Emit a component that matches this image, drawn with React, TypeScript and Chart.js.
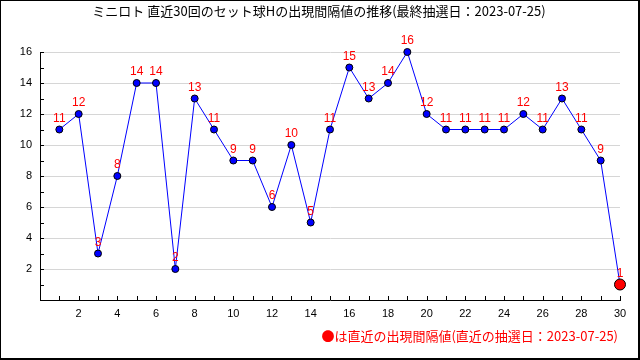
import React, { useEffect, useRef } from "react";
import { Chart, registerables } from "chart.js";

Chart.register(...registerables);

const TITLE = "ミニロト 直近30回のセット球Hの出現間隔値の推移(最終抽選日：2023-07-25)";
const FOOTER = "●は直近の出現間隔値(直近の抽選日：2023-07-25)";
const draws = [1, 2, 3, 4, 5, 6, 7, 8, 9, 10, 11, 12, 13, 14, 15, 16, 17, 18, 19, 20, 21, 22, 23, 24, 25, 26, 27, 28, 29, 30];
const intervals = [11, 12, 3, 8, 14, 14, 2, 13, 11, 9, 9, 6, 10, 5, 11, 15, 13, 14, 16, 12, 11, 11, 11, 11, 12, 11, 13, 11, 9, 1];
const xTickLabels = [2, 4, 6, 8, 10, 12, 14, 16, 18, 20, 22, 24, 26, 28, 30];
const yTickLabels = [2, 4, 6, 8, 10, 12, 14, 16];

const CJK = '"Noto Sans CJK JP", sans-serif';
const NUM = '"Liberation Sans", Arial, sans-serif';

const decorPlugin = {
  id: "decor",
  beforeDraw(chart: any) {
    const ctx = chart.ctx;
    ctx.save();
    ctx.fillStyle = "#ffffff";
    ctx.fillRect(0, 0, chart.width, chart.height);
    ctx.restore();
  },
  afterDraw(chart: any) {
    const ctx = chart.ctx;
    const xs = chart.scales.x;
    const ys = chart.scales.y;
    const area = chart.chartArea;
    ctx.save();
    // inward tick marks
    ctx.strokeStyle = "#000";
    ctx.lineWidth = 1;
    ctx.beginPath();
    for (let v = 1; v <= 16; v++) {
      const y = Math.round(ys.getPixelForValue(v)) + 0.5;
      ctx.moveTo(area.left, y);
      ctx.lineTo(area.left + 4, y);
    }
    for (let v = 1; v <= 30; v++) {
      const x = Math.round(xs.getPixelForValue(v)) + 0.5;
      ctx.moveTo(x, area.bottom);
      ctx.lineTo(x, area.bottom - 4);
    }
    ctx.stroke();

    // data labels
    const meta = chart.getDatasetMeta(0);
    ctx.fillStyle = "#ff0000";
    ctx.font = "12px " + NUM;
    ctx.textAlign = "center";
    ctx.textBaseline = "middle";
    meta.data.forEach((pt: any, i: number) => {
      ctx.fillText(String(intervals[i]), pt.x, pt.y - 11);
    });

    // title
    ctx.fillStyle = "#000";
    ctx.font = "13px " + CJK;
    ctx.textAlign = "center";
    ctx.fillText(TITLE, 319, 11);

    // footer
    ctx.fillStyle = "#ff0000";
    ctx.textAlign = "right";
    ctx.fillText(FOOTER, 618, 336);

    // frame
    ctx.fillStyle = "#000";
    ctx.fillRect(0, 0, chart.width, 1);
    ctx.fillRect(0, 0, 1, chart.height);
    ctx.fillRect(chart.width - 2, 0, 2, chart.height);
    ctx.fillRect(0, chart.height - 2, chart.width, 2);
    ctx.restore();
  },
};

export default function App() {
  const ref = useRef<HTMLCanvasElement | null>(null);
  useEffect(() => {
    if (!ref.current) return;
    const n = intervals.length;
    const chart = new Chart(ref.current, {
      type: "line",
      data: {
        datasets: [
          {
            data: draws.map((d, i) => ({ x: d, y: intervals[i] })),
            borderColor: "#0000ff",
            borderWidth: 1,
            pointBackgroundColor: intervals.map((_, i) => (i === n - 1 ? "#ff0000" : "#0000ff")),
            pointBorderColor: "#000000",
            pointBorderWidth: 1,
            pointRadius: intervals.map((_, i) => (i === n - 1 ? 5.5 : 3.5)),
            tension: 0,
            clip: false as any,
          },
        ],
      },
      options: {
        responsive: false,
        animation: false,
        devicePixelRatio: 1,
        layout: { padding: { left: 0, top: 52, right: 20, bottom: 0 } },
        plugins: {
          legend: { display: false },
          tooltip: { enabled: false },
          title: { display: false },
        },
        scales: {
          x: {
            type: "linear",
            min: 0,
            max: 30,
            afterFit: (s: any) => {
              s.height = 60;
            },
            ticks: {
              stepSize: 1,
              autoSkip: false,
              maxRotation: 0,
              padding: 7,
              color: "#000",
              font: { family: NUM, size: 11 },
              callback: (v: any) => (xTickLabels.includes(Number(v)) ? String(v) : ""),
            },
            grid: { drawOnChartArea: false, drawTicks: false },
            border: { display: true, color: "#000", width: 1 },
          },
          y: {
            type: "linear",
            min: 0,
            max: 16,
            afterFit: (s: any) => {
              s.width = 40;
            },
            ticks: {
              stepSize: 1,
              autoSkip: false,
              padding: 8,
              color: "#000",
              font: { family: NUM, size: 11 },
              callback: (v: any) => (yTickLabels.includes(Number(v)) ? String(v) : ""),
            },
            grid: {
              drawTicks: false,
              color: (c: any) =>
                c.tick && yTickLabels.includes(c.tick.value) ? "#d6d6d6" : "rgba(0,0,0,0)",
            },
            border: { display: true, color: "#000", width: 1 },
          },
        },
      },
      plugins: [decorPlugin],
    });
    return () => chart.destroy();
  }, []);
  return (
    <div style={{ position: "absolute", left: 0, top: 0, width: 640, height: 360 }}>
      <canvas ref={ref} width={640} height={360} style={{ display: "block" }} />
    </div>
  );
}
